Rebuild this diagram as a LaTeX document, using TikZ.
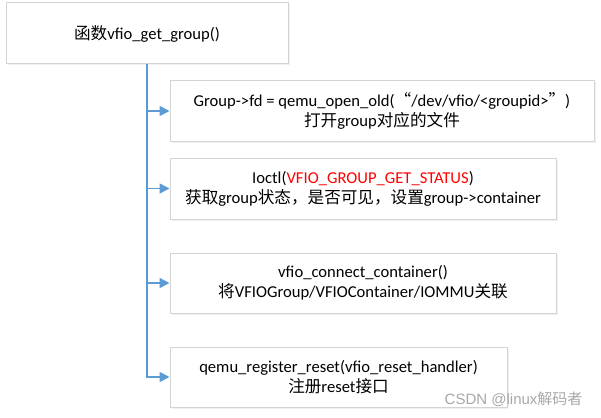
\documentclass[tikz,border=0pt]{standalone}
\usepackage{fontspec}
\setmainfont{Carlito}
\newfontfamily\cjk{Noto Sans CJK SC}
\newfontfamily\markfont{Liberation Sans}
\usetikzlibrary{arrows.meta,shadows}

\definecolor{linkblue}{HTML}{5B9BD5}
\definecolor{boxgray}{HTML}{D4D4D4}
\definecolor{markgray}{HTML}{A8A8A8}

\tikzset{
  stepbox/.style={draw=boxgray, line width=1pt, fill=white, align=center,
    inner sep=0pt, font=\fontsize{16.6}{20}\selectfont,
    drop shadow={opacity=0.12, shadow xshift=1.5pt, shadow yshift=-1.5pt}},
  link/.style={draw=linkblue, line width=1.6pt},
}

\begin{document}
\begin{tikzpicture}[x=1pt, y=-1pt, >={Triangle[length=10pt,width=10pt]}]
  \useasboundingbox (0,0) rectangle (601,417);

  % caller
  \node[stepbox, minimum width=282pt, minimum height=61pt] (top) at (147,33.5)
    {{\cjk 函数}vfio\_get\_group()};

  % steps
  \node[stepbox, minimum width=424pt, minimum height=60pt] (open) at (382,111)
    {Group->fd = qemu\_open\_old({\cjk “}/dev/vfio/<groupid>{\cjk ”})\\
     {\cjk 打开}group{\cjk 对应的文件}};
  \node[stepbox, minimum width=386pt, minimum height=61pt] (status) at (363,188.5)
    {Ioctl(\textcolor{red}{VFIO\_GROUP\_GET\_STATUS})\\
     {\cjk 获取}group{\cjk 状态，是否可见，设置}group->container};
  \node[stepbox, minimum width=386pt, minimum height=60pt] (connect) at (363,283)
    {vfio\_connect\_container()\\
     {\cjk 将}VFIOGroup/VFIOContainer/IOMMU{\cjk 关联}};
  \node[stepbox, minimum width=337pt, minimum height=60pt] (reset) at (338.5,377)
    {qemu\_register\_reset(vfio\_reset\_handler)\\
     {\cjk 注册}reset{\cjk 接口}};

  % connectors
  \draw[link, ->] (top.south) |- (open.west);
  \draw[link, ->] (top.south) |- (status.west);
  \draw[link, ->] (top.south) |- (connect.west);
  \draw[link, ->] (top.south) |- (reset.west);

  % watermark
  \node[text=markgray, font=\markfont\fontsize{15}{17}\selectfont, anchor=east] (mark) at (586,399)
    {CSDN @linux{\cjk 解码者}};
\end{tikzpicture}
\end{document}
